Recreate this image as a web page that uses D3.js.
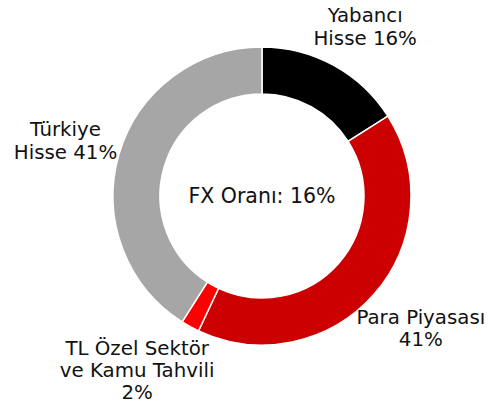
<!DOCTYPE html>
<html>
<head>
<meta charset="utf-8">
<script src="https://cdn.jsdelivr.net/npm/d3@7"></script>
<style>
  body { margin: 0; background: #fff; }
  text { font-family: "DejaVu Sans", sans-serif; fill: #111; }
</style>
</head>
<body>
<div id="chart"></div>
<script>
// data
var labels = [["Yabancı", "Hisse 16%"], ["Para Piyasası", "41%"], ["TL Özel Sektör", "ve Kamu Tahvili", "2%"], ["Türkiye", "Hisse 41%"]];
var values = [16, 41, 2, 41];
var colors = ["#000000", "#cc0000", "#ff0000", "#a6a6a6"];
var centerText = "FX Oranı: 16%";

var width = 496, height = 403;
var cx = 262, cy = 196, outerR = 149, innerR = 102;

var svg = d3.select("#chart")
    .append("svg")
    .attr("width", width)
    .attr("height", height)
    .append("g")
    .attr("transform", "translate(" + cx + "," + cy + ")");

var pie = d3.pie().sort(null).value(function (d) { return d; });
var arcs = pie(values);

var arc = d3.arc().innerRadius(innerR).outerRadius(outerR);

svg.selectAll("path.slice")
    .data(arcs)
    .enter()
    .append("path")
    .attr("class", "slice")
    .attr("d", arc)
    .attr("fill", function (d, i) { return colors[i]; })
    .attr("stroke", "#fff")
    .attr("stroke-width", 1.5);

// label placement: radius and angle nudge per slice (layout only)
var labelR = [198, 207, 214.5, 204];
var angleShift = [2.6, -1.5, 6.8, -0.6];

var lineH = 22.4;
var lbl = svg.selectAll("text.lbl")
    .data(arcs)
    .enter()
    .append("text")
    .attr("class", "lbl")
    .attr("text-anchor", "middle")
    .style("font-size", "19.8px")
    .attr("transform", function (d, i) {
        var a = (d.startAngle + d.endAngle) / 2 + angleShift[i] * Math.PI / 180;
        var r = labelR[i];
        return "translate(" + (r * Math.sin(a)) + "," + (-r * Math.cos(a)) + ")";
    });

lbl.each(function (d, i) {
    var lines = labels[i];
    var t = d3.select(this);
    lines.forEach(function (s, j) {
        t.append("tspan")
            .attr("x", 0)
            .attr("y", (j - (lines.length - 1) / 2) * lineH)
            .attr("dominant-baseline", "central")
            .text(s);
    });
});

svg.append("text")
    .attr("text-anchor", "middle")
    .attr("dominant-baseline", "central")
    .style("font-size", "20.5px")
    .attr("y", 0)
    .text(centerText);
</script>
</body>
</html>
